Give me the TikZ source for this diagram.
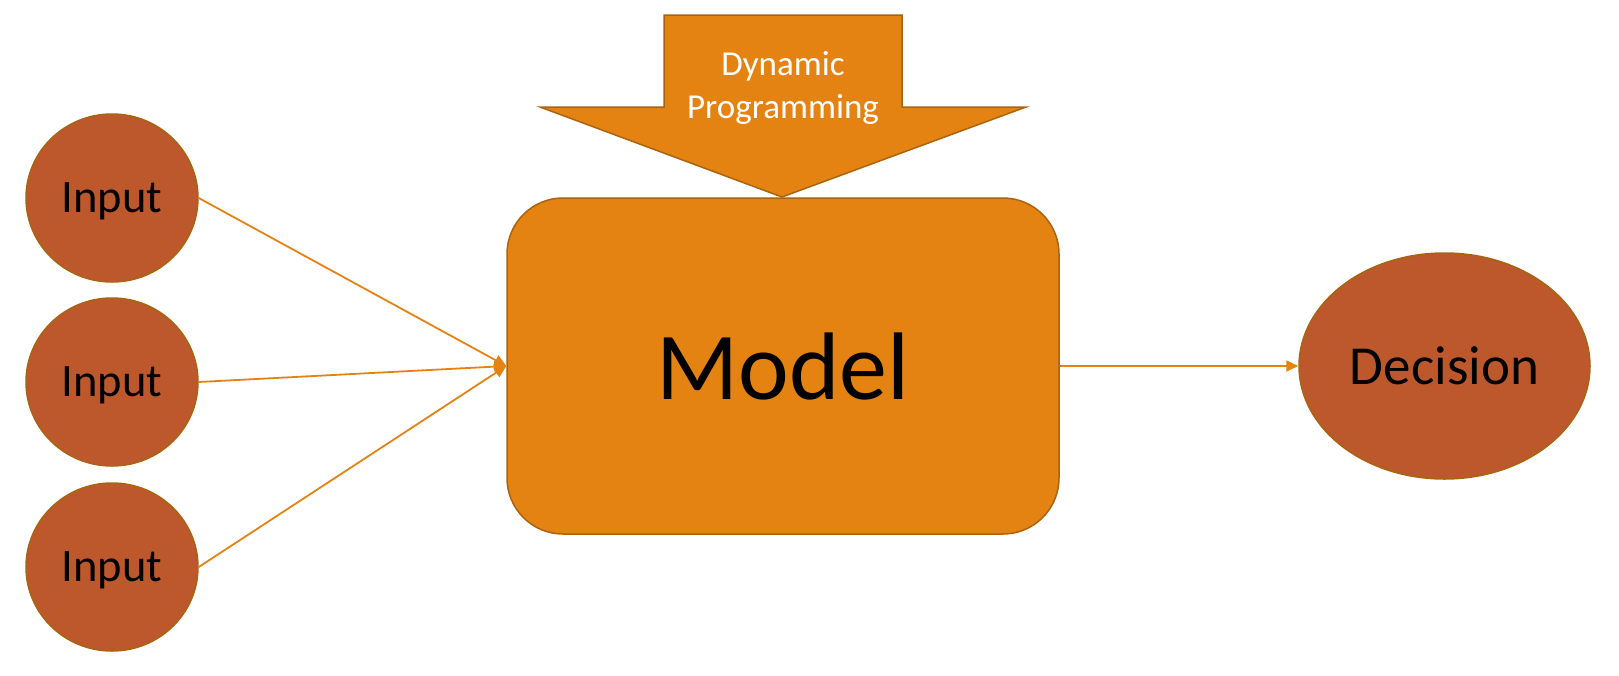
\documentclass[tikz,border=0pt]{standalone}
\usepackage{fontspec}
\setmainfont{Carlito}
\usepackage{xcolor}
\usetikzlibrary{arrows.meta,shapes.geometric,positioning}
\definecolor{dpOrange}{HTML}{E48312}
\definecolor{dpRust}{HTML}{BD582C}
\definecolor{dpEdge}{HTML}{A9640F}
\tikzset{%
	inputnode/.style = {draw=dpEdge, fill=dpRust, ellipse, line width=1.5pt, inner sep=0pt,
		minimum width=172pt, minimum height=168pt, text depth=0pt,
		font=\fontsize{46.5}{56}\selectfont}, % Input
	modelbox/.style  = {draw=dpEdge, fill=dpOrange, rectangle, rounded corners=56pt, line width=1.5pt,
		minimum width=552pt, minimum height=336pt, text depth=0pt,
		font=\fontsize{96}{115}\selectfont}, % Model
	decnode/.style   = {draw=dpEdge, fill=dpRust, ellipse, line width=1.5pt, inner sep=0pt,
		minimum width=291pt, minimum height=226pt, text depth=0pt,
		font=\fontsize{55}{66}\selectfont}, % Decision
	link/.style      = {draw=dpOrange, line width=1.8pt, -{Triangle[length=12pt,width=11pt]}},
}
\begin{document}
\begin{tikzpicture}[x=1pt, y=-1pt]
		\useasboundingbox (0,0) rectangle (1619,675);
		\node[inputnode] (in1) at (112,198) {Input};
		\node[inputnode] (in2) at (112,382) {Input};
		\node[inputnode] (in3) at (112,567) {Input};
		\node[modelbox] (model) at (783,366) {Model};
		\node[decnode] (dec) at (1444.5,366) {Decision};
		% block arrow on top of the model
		\draw[draw=dpEdge, fill=dpOrange, line width=1.5pt, line join=miter]
			(664,15) -- (902,15) -- (902,107) -- (1026,107) -- (782,197)
			-- (540,107) -- (664,107) -- cycle;
		\node[text=white, align=center, inner sep=0pt,
			font=\fontsize{35}{43}\selectfont] (dp) at (783,88) {Dynamic\\Programming};
		\draw[link] (in1.east) -- (model.west);
		\draw[link] (in2.east) -- (model.west);
		\draw[link] (in3.east) -- (model.west);
		\draw[link] (model.east) -- (dec.west);
		\end{tikzpicture}
\end{document}
